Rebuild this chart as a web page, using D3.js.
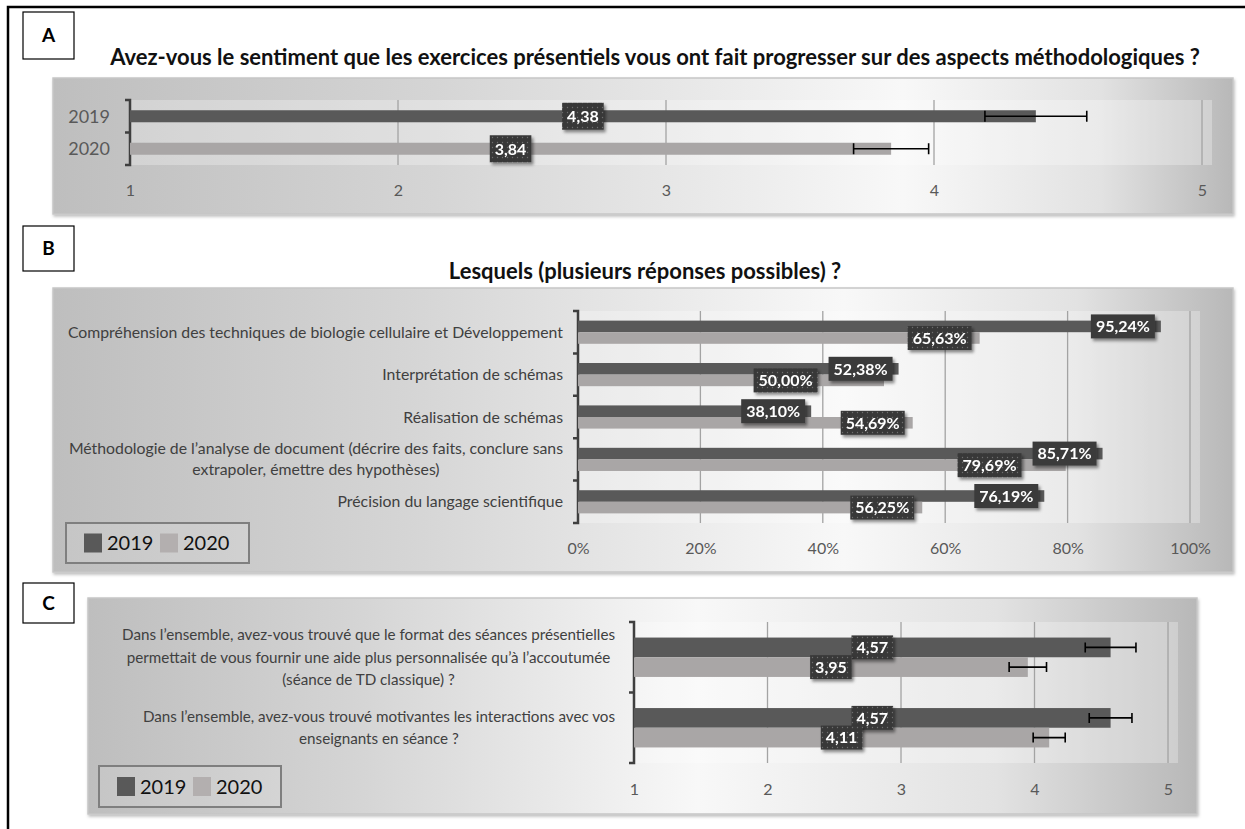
<!DOCTYPE html>
<html>
<head>
<meta charset="utf-8">
<script src="https://cdn.jsdelivr.net/npm/d3@7"></script>
<style>
  body { margin: 0; background: #fff; }
  svg { display: block; font-family: Lato, "Open Sans", sans-serif; }
</style>
</head>
<body>
<div id="chart"></div>
<script>
'use strict';

var years = ["2019", "2020"];

// A : methodological progress (mean score 1-5, error bars)
var titleA = "Avez-vous le sentiment que les exercices présentiels vous ont fait progresser sur des aspects méthodologiques ?";
var progressMeans = [4.38, 3.84];
var progressErrors = [0.19, 0.14];
var scoreTicks = [1, 2, 3, 4, 5];

// B : which aspects (% of answers)
var titleB = "Lesquels (plusieurs réponses possibles) ?";
var aspects = [
  ["Compréhension des techniques de biologie cellulaire et Développement"],
  ["Interprétation de schémas"],
  ["Réalisation de schémas"],
  ["Méthodologie de l’analyse de document (décrire des faits, conclure sans", "extrapoler, émettre des hypothèses)"],
  ["Précision du langage scientifique"]
];
var aspects2019 = [95.24, 52.38, 38.10, 85.71, 76.19];
var aspects2020 = [65.63, 50.00, 54.69, 79.69, 56.25];
var percentTicks = [0, 20, 40, 60, 80, 100];

// C : format of the sessions (mean score 1-5, error bars)
var questions = [
  ["Dans l’ensemble, avez-vous trouvé que le format des séances présentielles",
   "permettait de vous fournir une aide plus personnalisée qu’à l’accoutumée",
   "(séance de TD classique) ?"],
  ["Dans l’ensemble, avez-vous trouvé motivantes les interactions avec vos",
   "enseignants en séance ?"]
];
var questions2019 = [4.57, 4.57];
var questions2020 = [3.95, 4.11];
var questionsErr2019 = [0.19, 0.16];
var questionsErr2020 = [0.14, 0.12];

var color = d3.scaleOrdinal().domain(years).range(["#595959", "#a9a6a6"]);
var fmtScore = v => d3.format(".2f")(v).replace(".", ",");
var fmtPct = v => d3.format(".2f")(v).replace(".", ",") + "%";

var W = 1245, H = 829;

var svg = d3.select("#chart").append("svg")
  .attr("width", W)
  .attr("height", H);

svg.append("rect").attr("width", W).attr("height", H).attr("fill", "#fff");

var defs = svg.append("defs");

var lblShadow = defs.append("filter").attr("id", "lblShadow")
  .attr("x", "-30%").attr("y", "-40%").attr("width", "170%").attr("height", "190%");
lblShadow.append("feDropShadow").attr("dx", 2).attr("dy", 2.5).attr("stdDeviation", 1.6)
  .attr("flood-color", "#000").attr("flood-opacity", 0.45);

var boxShadow = defs.append("filter").attr("id", "boxShadow")
  .attr("x", "-5%").attr("y", "-10%").attr("width", "110%").attr("height", "125%");
boxShadow.append("feDropShadow").attr("dx", 1).attr("dy", 2).attr("stdDeviation", 1.5)
  .attr("flood-color", "#000").attr("flood-opacity", 0.25);

var dots = defs.append("pattern").attr("id", "dots")
  .attr("patternUnits", "userSpaceOnUse").attr("width", 5).attr("height", 5);
dots.append("rect").attr("width", 5).attr("height", 5).attr("fill", "#393939");
dots.append("circle").attr("cx", 2.5).attr("cy", 2.5).attr("r", 0.7).attr("fill", "#6e6e6e");

// outer frame (only left and top edges are in the picture)
svg.append("path")
  .attr("d", "M8," + H + "V7H" + W)
  .attr("fill", "none").attr("stroke", "#000").attr("stroke-width", 2.5);

function letterBox(letter, x, y, w, h) {
  svg.append("rect").attr("x", x).attr("y", y).attr("width", w).attr("height", h)
    .attr("fill", "#fff").attr("stroke", "#000").attr("stroke-width", 1.2);
  svg.append("text").attr("x", x + w / 2).attr("y", y + h / 2).attr("dy", "0.36em")
    .attr("text-anchor", "middle").attr("font-weight", 700).attr("font-size", 19)
    .text(letter);
}

function panelBackground(id, x, y, w, h, peak) {
  var grad = defs.append("linearGradient").attr("id", id)
    .attr("x1", 0).attr("x2", 1).attr("y1", 0).attr("y2", 0);
  [[0, "#bebebe"], [peak * 0.45, "#d5d5d5"], [peak, "#f8f8f8"],
   [peak + (1 - peak) * 0.6, "#e2e2e2"], [1, "#b8b8b8"]]
    .forEach(s => grad.append("stop").attr("offset", s[0]).attr("stop-color", s[1]));
  svg.append("rect").attr("x", x).attr("y", y).attr("width", w).attr("height", h)
    .attr("fill", "url(#" + id + ")")
    .attr("stroke", "#c6c6c6").attr("stroke-width", 1.5)
    .attr("filter", "url(#boxShadow)");
}

function title(text, cx, cy) {
  svg.append("text").attr("x", cx).attr("y", cy).attr("dy", "0.35em")
    .attr("text-anchor", "middle").attr("font-weight", 700).attr("font-size", 22)
    .attr("fill", "#111").text(text);
}

// plot area tint, grid lines, tick labels and the bracket-like category axis
function frame(g, x, y, tickVals, fmt, tickY, nCats) {
  var x0 = x.range()[0], x1 = x.range()[1];
  var y0 = y.range()[0], y1 = y.range()[1];

  g.append("rect").attr("x", x0).attr("y", y0).attr("width", x1 - x0 + 10).attr("height", y1 - y0)
    .attr("fill", "#fff").attr("opacity", 0.28);

  g.selectAll("line.grid").data(tickVals.slice(1)).enter().append("line")
    .attr("class", "grid")
    .attr("x1", d => x(d)).attr("x2", d => x(d))
    .attr("y1", y0).attr("y2", y1)
    .attr("stroke", "#a3a3a3").attr("stroke-width", 1.3);

  var axis = g.append("g").attr("transform", "translate(0," + tickY + ")")
    .call(d3.axisBottom(x).tickValues(tickVals).tickSize(0).tickFormat(fmt));
  axis.select(".domain").remove();
  axis.selectAll("text").attr("y", 0).attr("dy", "0.35em")
    .attr("font-family", "Lato, sans-serif").attr("font-size", 16).attr("fill", "#595959");

  var step = (y1 - y0) / nCats;
  var br = "M" + (x0 - 5) + "," + y0 + "H" + x0 + "V" + y1 + "H" + (x0 - 5);
  for (var i = 1; i < nCats; i++) br += "M" + (x0 - 5) + "," + (y0 + i * step) + "H" + x0;
  g.append("path").attr("d", br).attr("fill", "none")
    .attr("stroke", "#3f3f3f").attr("stroke-width", 2.5);
}

function categoryLabels(g, cats, yCenter, rightX, fontSize, lineH, fill) {
  cats.forEach(function(lines, i) {
    var t = g.append("text").attr("font-size", fontSize).attr("fill", fill)
      .attr("text-anchor", "middle");
    var spans = lines.map(s => t.append("tspan").text(s));
    var w = d3.max(spans, s => s.node().getComputedTextLength());
    var top = yCenter(i) - (lines.length - 1) * lineH / 2;
    spans.forEach(function(s, j) {
      s.attr("x", rightX - w / 2).attr("y", top + j * lineH + 0.35 * fontSize);
    });
  });
}

function valueLabel(g, txt, x, cy, anchor, dotted, h) {
  var lg = g.append("g").attr("filter", "url(#lblShadow)");
  var r = lg.append("rect");
  var t = lg.append("text").text(txt)
    .attr("font-size", 16).attr("font-weight", 700).attr("fill", "#fff")
    .attr("text-anchor", "middle");
  var w = t.node().getComputedTextLength() + 10;
  var left = anchor === "end" ? x - w : x - w / 2;
  r.attr("x", left).attr("y", cy - h / 2).attr("width", w).attr("height", h)
    .attr("fill", dotted ? "url(#dots)" : "#3b3b3b");
  t.attr("x", left + w / 2).attr("y", cy).attr("dy", "0.36em");
  return { left: left, right: left + w, width: w };
}

function errorBar(g, x, cy, v, e, cap) {
  var p = "M" + x(v - e) + "," + cy + "H" + x(v + e) +
    "M" + x(v - e) + "," + (cy - cap / 2) + "V" + (cy + cap / 2) +
    "M" + x(v + e) + "," + (cy - cap / 2) + "V" + (cy + cap / 2);
  g.append("path").attr("d", p).attr("fill", "none").attr("stroke", "#000").attr("stroke-width", 1.6);
}

function legend(x, y, w, h) {
  var g = svg.append("g").attr("transform", "translate(" + x + "," + y + ")");
  g.append("rect").attr("width", w).attr("height", h)
    .attr("fill", "#fff").attr("fill-opacity", 0.12)
    .attr("stroke", "#7f7f7f").attr("stroke-width", 2);
  var item = d3.scaleBand().domain(years).range([18, 18 + 2 * 76]);
  var it = g.selectAll("g.item").data(years).enter().append("g")
    .attr("transform", d => "translate(" + item(d) + ",0)");
  it.append("rect").attr("y", h / 2 - 9.5).attr("width", 18).attr("height", 19)
    .attr("fill", d => d === "2019" ? color(d) : "#b3afaf");
  it.append("text").attr("x", 23).attr("y", h / 2).attr("dy", "0.36em")
    .attr("font-size", 20).attr("fill", "#111").text(d => d);
}

// ---------------- Panel A ----------------
letterBox("A", 23, 12, 51, 47);
title(titleA, 655, 57);
panelBackground("gradA", 53, 78, 1180, 136, 0.72);

var gA = svg.append("g");
var xA = d3.scaleLinear().domain([1, 5]).range([130, 1202]);
var yA = d3.scaleBand().domain(years).range([100, 165]).paddingInner(0.63).paddingOuter(0.315);

frame(gA, xA, yA, scoreTicks, d => d, 190, years.length);

gA.selectAll("rect.bar").data(years).enter().append("rect")
  .attr("class", "bar")
  .attr("x", xA(1))
  .attr("y", d => yA(d))
  .attr("width", (d, i) => xA(progressMeans[i]) - xA(1))
  .attr("height", yA.bandwidth())
  .attr("fill", d => color(d));

years.forEach(function(yr, i) {
  var cy = yA(yr) + yA.bandwidth() / 2;
  errorBar(gA, xA, cy, progressMeans[i], progressErrors[i], 11);
});
years.forEach(function(yr, i) {
  var cy = yA(yr) + yA.bandwidth() / 2;
  valueLabel(gA, fmtScore(progressMeans[i]), (xA(1) + xA(progressMeans[i])) / 2, cy, "middle", true, 27);
});

gA.selectAll("text.cat").data(years).enter().append("text")
  .attr("class", "cat")
  .attr("x", 110).attr("y", d => yA(d) + yA.bandwidth() / 2).attr("dy", "0.35em")
  .attr("text-anchor", "end").attr("font-size", 18).attr("fill", "#595959")
  .text(d => d);

// ---------------- Panel B ----------------
letterBox("B", 23, 226, 51, 45);
title(titleB, 645, 271);
panelBackground("gradB", 53, 288, 1180, 284, 0.67);

var gB = svg.append("g");
var xB = d3.scaleLinear().domain([0, 100]).range([578, 1190]);
var yB = d3.scaleBand().domain(d3.range(aspects.length)).range([311, 523]);
var sB = d3.scaleBand().domain(years).range([0, yB.bandwidth()]).paddingOuter(0.83);

frame(gB, xB, yB, percentTicks, d => d + "%", 548, aspects.length);
categoryLabels(gB, aspects, i => yB(i) + yB.bandwidth() / 2, 563, 15.8, 21, "#404040");

var seriesB = [aspects2019, aspects2020];
years.forEach(function(yr, s) {
  gB.selectAll("rect.bar" + yr).data(seriesB[s]).enter().append("rect")
    .attr("x", xB(0))
    .attr("y", (d, i) => yB(i) + sB(yr))
    .attr("width", d => xB(d) - xB(0))
    .attr("height", sB.bandwidth())
    .attr("fill", color(yr));
});

aspects.forEach(function(c, i) {
  var cy19 = yB(i) + sB("2019") + sB.bandwidth() / 2;
  var cy20 = yB(i) + sB("2020") + sB.bandwidth() / 2;
  var l19 = valueLabel(gB, fmtPct(aspects2019[i]), xB(aspects2019[i]) - 6, cy19, "end", false, 24);
  var right = xB(aspects2020[i]) - 8;
  // move the 2020 label left of the 2019 one when they would collide
  if (right > l19.left - 9 && right - l19.width < l19.right) right = l19.left - 11;
  valueLabel(gB, fmtPct(aspects2020[i]), right, cy20, "end", true, 24);
});

legend(66, 523, 183, 40);

// ---------------- Panel C ----------------
letterBox("C", 23, 583, 51, 40);
panelBackground("gradC", 88, 598, 1109, 216, 0.55);

var gC = svg.append("g");
var xC = d3.scaleLinear().domain([1, 5]).range([634, 1168]);
var yC = d3.scaleBand().domain(d3.range(questions.length)).range([622, 763]);
var sC = d3.scaleBand().domain(years).range([0, yC.bandwidth()]).paddingOuter(0.79);

frame(gC, xC, yC, scoreTicks, d => d, 789, questions.length);
categoryLabels(gC, questions, i => yC(i) + yC.bandwidth() / 2, 615, 15.2, 22.5, "#404040");

var seriesC = [questions2019, questions2020];
var errC = [questionsErr2019, questionsErr2020];
years.forEach(function(yr, s) {
  gC.selectAll("rect.bar" + yr).data(seriesC[s]).enter().append("rect")
    .attr("x", xC(1))
    .attr("y", (d, i) => yC(i) + sC(yr))
    .attr("width", d => xC(d) - xC(1))
    .attr("height", sC.bandwidth())
    .attr("fill", color(yr));
});
years.forEach(function(yr, s) {
  seriesC[s].forEach(function(v, i) {
    errorBar(gC, xC, yC(i) + sC(yr) + sC.bandwidth() / 2, v, errC[s][i], 10);
  });
});
years.forEach(function(yr, s) {
  seriesC[s].forEach(function(v, i) {
    valueLabel(gC, fmtScore(v), (xC(1) + xC(v)) / 2, yC(i) + sC(yr) + sC.bandwidth() / 2, "middle", true, 24);
  });
});

legend(99, 766, 182, 41);
</script>
</body>
</html>
